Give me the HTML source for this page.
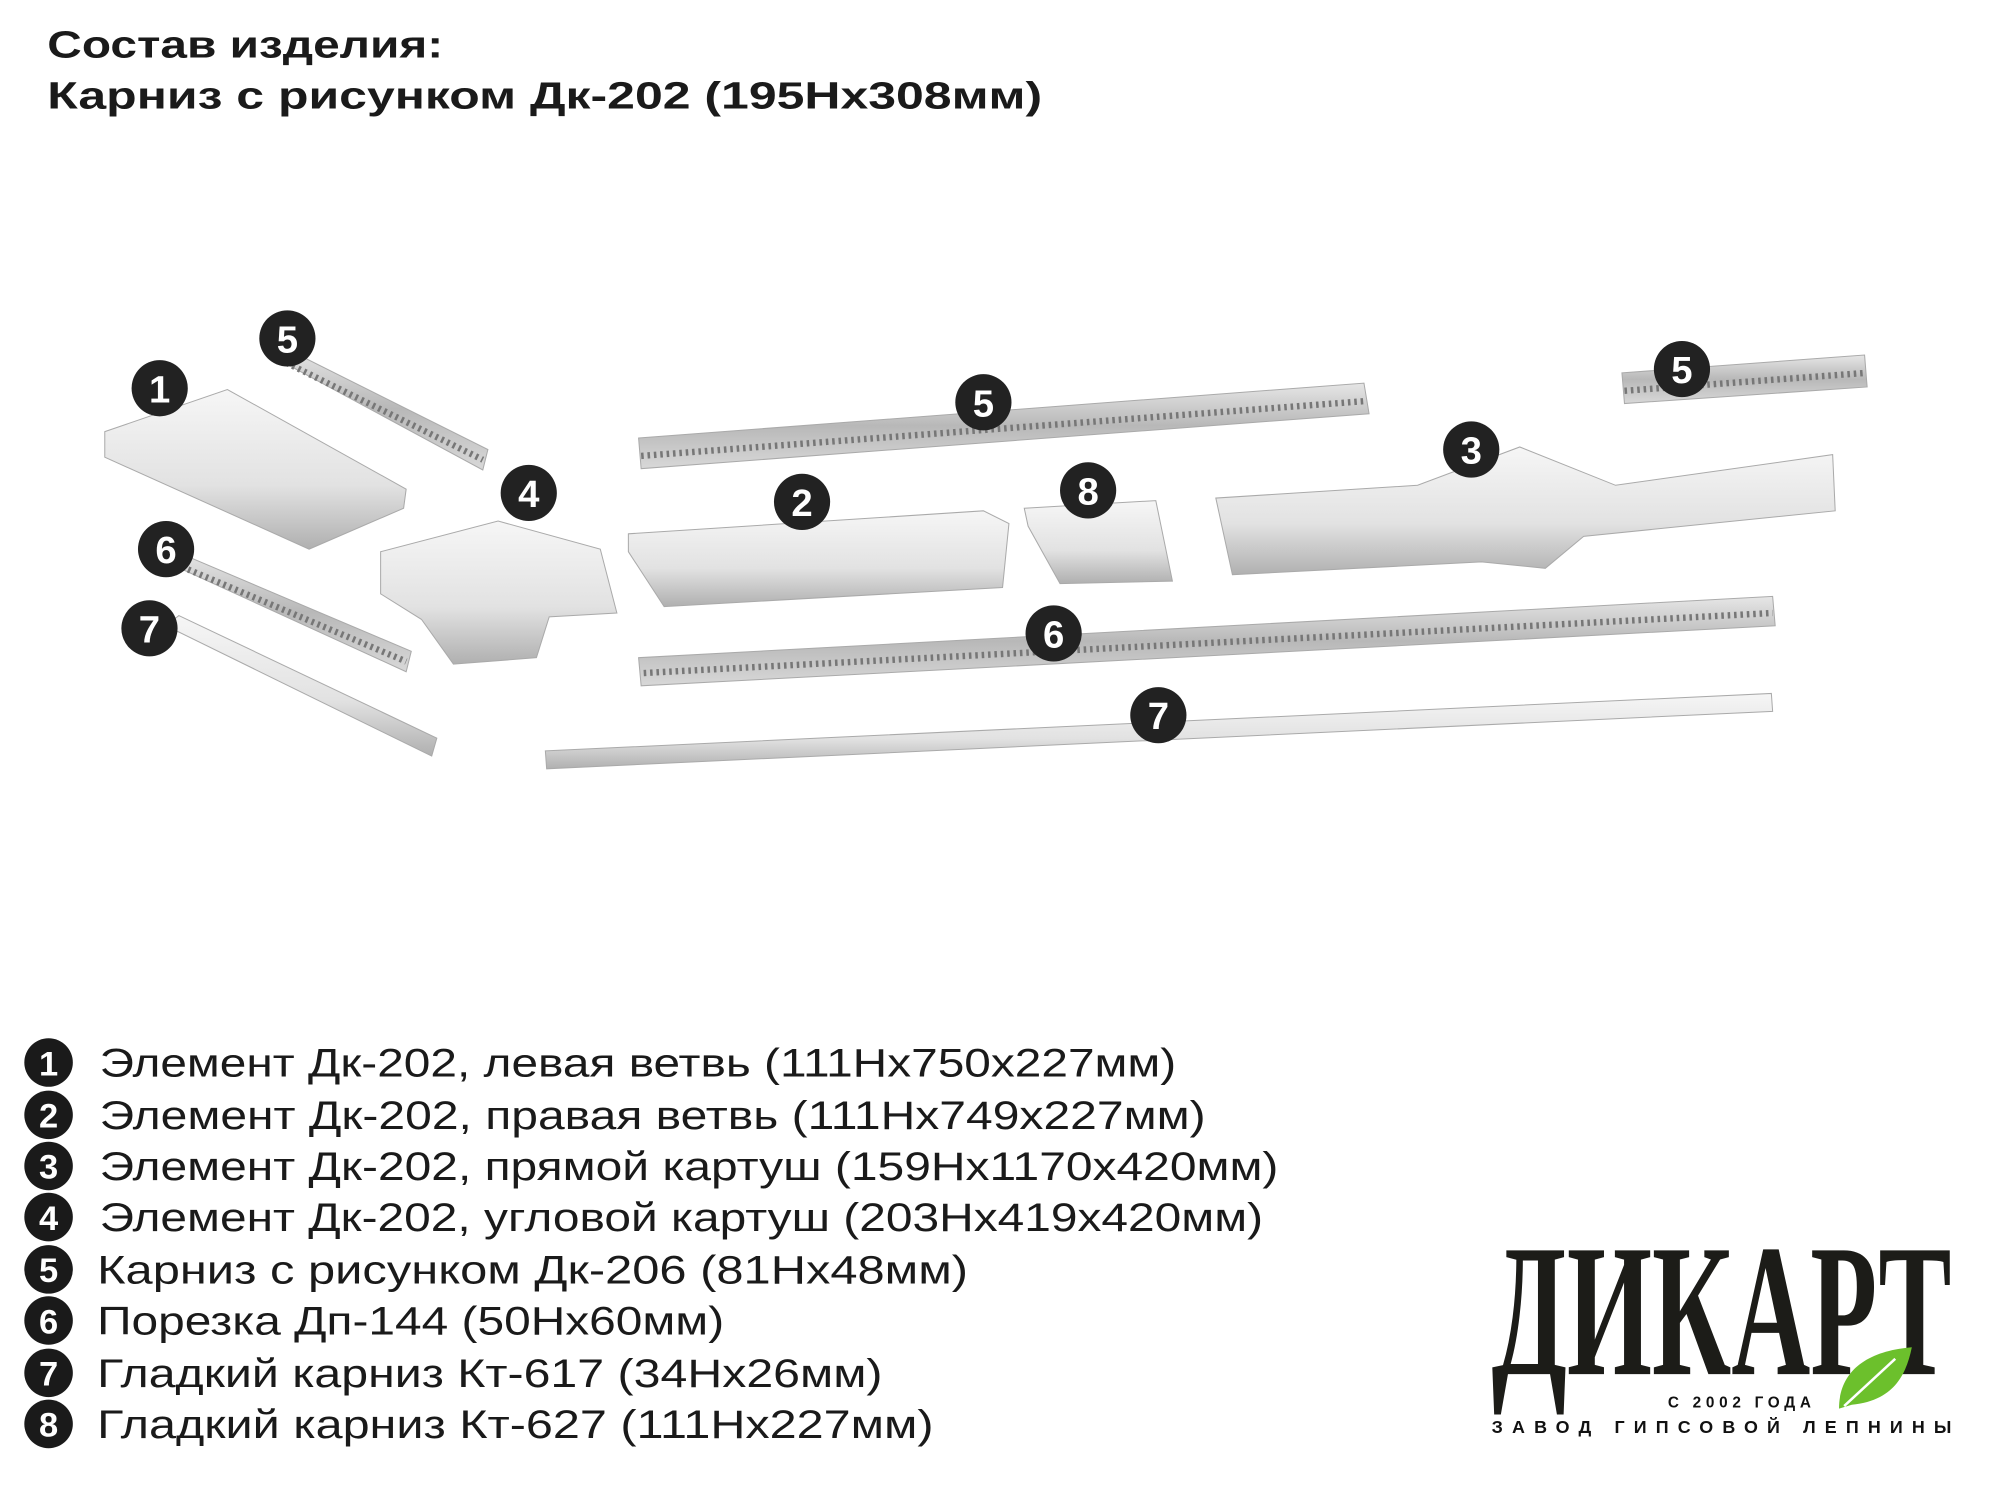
<!DOCTYPE html>
<html><head><meta charset="utf-8"><style>
html,body{margin:0;padding:0;background:#fff;}
svg{display:block;}
</style></head><body>
<svg width="2000" height="1486" viewBox="0 0 1566 1163.6" xmlns="http://www.w3.org/2000/svg" font-family="'Liberation Sans', sans-serif">
<defs>
<linearGradient id="g" x1="0" y1="0" x2="0" y2="1">
<stop offset="0" stop-color="#f6f6f6"/><stop offset="0.6" stop-color="#e2e2e2"/><stop offset="1" stop-color="#b0b0b0"/></linearGradient>
<linearGradient id="g2" x1="0" y1="0" x2="0" y2="1">
<stop offset="0" stop-color="#e6e6e6"/><stop offset="0.5" stop-color="#b8b8b8"/><stop offset="1" stop-color="#d8d8d8"/></linearGradient>
</defs>
<text x="37" y="45" font-size="30" font-weight="bold" fill="#1a1a1a" textLength="310" lengthAdjust="spacingAndGlyphs">Состав изделия:</text>
<text x="37" y="85" font-size="30" font-weight="bold" fill="#1a1a1a" textLength="779" lengthAdjust="spacingAndGlyphs">Карниз с рисунком Дк-202 (195Нх308мм)</text>

<g stroke="#aaa" stroke-width="0.8">
<polygon points="82,338 178,305 318,383 316,398 242,430 82,358" fill="url(#g)"/>
<polygon points="215,280 222,272 382,352 378,368" fill="url(#g2)"/>
<polygon points="298,432 390,408 470,430 483,480 430,483 420,515 355,520 330,485 298,465" fill="url(#g)"/>
<polygon points="130,440 138,432 322,510 318,526" fill="url(#g2)"/>
<polygon points="130,490 140,482 342,578 338,592" fill="url(#g)"/>
<polygon points="500,343 1068,300 1072,324 502,367" fill="url(#g2)"/>
<polygon points="1270,292 1460,278 1462,303 1272,316" fill="url(#g2)"/>
<polygon points="492,418 770,400 790,410 785,460 520,475 492,432" fill="url(#g)"/>
<polygon points="802,398 905,392 918,455 830,457 805,412" fill="url(#g)"/>
<polygon points="952,390 1110,380 1190,350 1265,380 1435,356 1437,400 1240,420 1210,445 1160,440 965,450" fill="url(#g)"/>
<polygon points="500,515 1388,467 1390,490 502,537" fill="url(#g2)"/>
<polygon points="427,588 1387,543 1388,557 428,602" fill="url(#g)"/>
</g>
<g stroke="#777" stroke-width="5" stroke-dasharray="2,3" fill="none">
<line x1="502" y1="357" x2="1070" y2="314"/>
<line x1="1272" y1="306" x2="1461" y2="292"/>
<line x1="220" y1="282" x2="378" y2="360"/>
<line x1="504" y1="527" x2="1388" y2="480"/>
<line x1="138" y1="442" x2="318" y2="518"/>
</g>

<g font-size="30" font-weight="bold" fill="#fff" text-anchor="middle">
<circle cx="125" cy="304" r="22" fill="#222"/><text x="125" y="315">1</text>
<circle cx="225" cy="265" r="22" fill="#222"/><text x="225" y="276">5</text>
<circle cx="414" cy="386" r="22" fill="#222"/><text x="414" y="397">4</text>
<circle cx="130" cy="430" r="22" fill="#222"/><text x="130" y="441">6</text>
<circle cx="117" cy="492" r="22" fill="#222"/><text x="117" y="503">7</text>
<circle cx="770" cy="315" r="22" fill="#222"/><text x="770" y="326">5</text>
<circle cx="1317" cy="289" r="22" fill="#222"/><text x="1317" y="300">5</text>
<circle cx="628" cy="393" r="22" fill="#222"/><text x="628" y="404">2</text>
<circle cx="852" cy="384" r="22" fill="#222"/><text x="852" y="395">8</text>
<circle cx="1152" cy="352" r="22" fill="#222"/><text x="1152" y="363">3</text>
<circle cx="825" cy="496" r="22" fill="#222"/><text x="825" y="507">6</text>
<circle cx="907" cy="560" r="22" fill="#222"/><text x="907" y="571">7</text>
</g>

<g font-size="31" fill="#1a1a1a" lengthAdjust="spacingAndGlyphs">
<text x="78" y="843" textLength="843" lengthAdjust="spacingAndGlyphs">Элемент Дк-202, левая ветвь (111Нх750х227мм)</text>
<text x="78" y="884" textLength="866" lengthAdjust="spacingAndGlyphs">Элемент Дк-202, правая ветвь (111Нх749х227мм)</text>
<text x="78" y="924" textLength="923" lengthAdjust="spacingAndGlyphs">Элемент Дк-202, прямой картуш (159Нх1170х420мм)</text>
<text x="78" y="964" textLength="911" lengthAdjust="spacingAndGlyphs">Элемент Дк-202, угловой картуш (203Нх419х420мм)</text>
<text x="76" y="1005" textLength="682" lengthAdjust="spacingAndGlyphs">Карниз с рисунком Дк-206 (81Нх48мм)</text>
<text x="76" y="1045" textLength="491" lengthAdjust="spacingAndGlyphs">Порезка Дп-144 (50Нх60мм)</text>
<text x="76" y="1086" textLength="615" lengthAdjust="spacingAndGlyphs">Гладкий карниз Кт-617 (34Нх26мм)</text>
<text x="76" y="1126" textLength="655" lengthAdjust="spacingAndGlyphs">Гладкий карниз Кт-627 (111Нх227мм)</text>
</g>
<g font-size="27" font-weight="bold" fill="#fff" text-anchor="middle">
<circle cx="38" cy="832" r="19" fill="#1a1a1a"/><text x="38" y="842">1</text>
<circle cx="38" cy="873" r="19" fill="#1a1a1a"/><text x="38" y="883">2</text>
<circle cx="38" cy="913" r="19" fill="#1a1a1a"/><text x="38" y="923">3</text>
<circle cx="38" cy="953" r="19" fill="#1a1a1a"/><text x="38" y="963">4</text>
<circle cx="38" cy="994" r="19" fill="#1a1a1a"/><text x="38" y="1004">5</text>
<circle cx="38" cy="1034" r="19" fill="#1a1a1a"/><text x="38" y="1044">6</text>
<circle cx="38" cy="1075" r="19" fill="#1a1a1a"/><text x="38" y="1085">7</text>
<circle cx="38" cy="1115" r="19" fill="#1a1a1a"/><text x="38" y="1125">8</text>
</g>

<text x="1168" y="1076" font-family="'Liberation Serif', serif" font-weight="bold" font-size="148" fill="#1c1c18" textLength="360" lengthAdjust="spacingAndGlyphs">ДИКАРТ</text>
<path d="M1440,1103 C1440,1075 1460,1058 1497,1055 C1492,1080 1480,1097 1450,1100 Z" fill="#6cc02c"/>
<path d="M1444,1101 L1484,1064" stroke="#fff" stroke-width="2"/>
<text x="1306" y="1102" font-size="12" font-weight="bold" fill="#111" textLength="112" lengthAdjust="spacing">С 2002 ГОДА</text>
<text x="1168" y="1122" font-size="14" font-weight="bold" fill="#111" textLength="360" lengthAdjust="spacing">ЗАВОД ГИПСОВОЙ ЛЕПНИНЫ</text>
</svg>
</body></html>
